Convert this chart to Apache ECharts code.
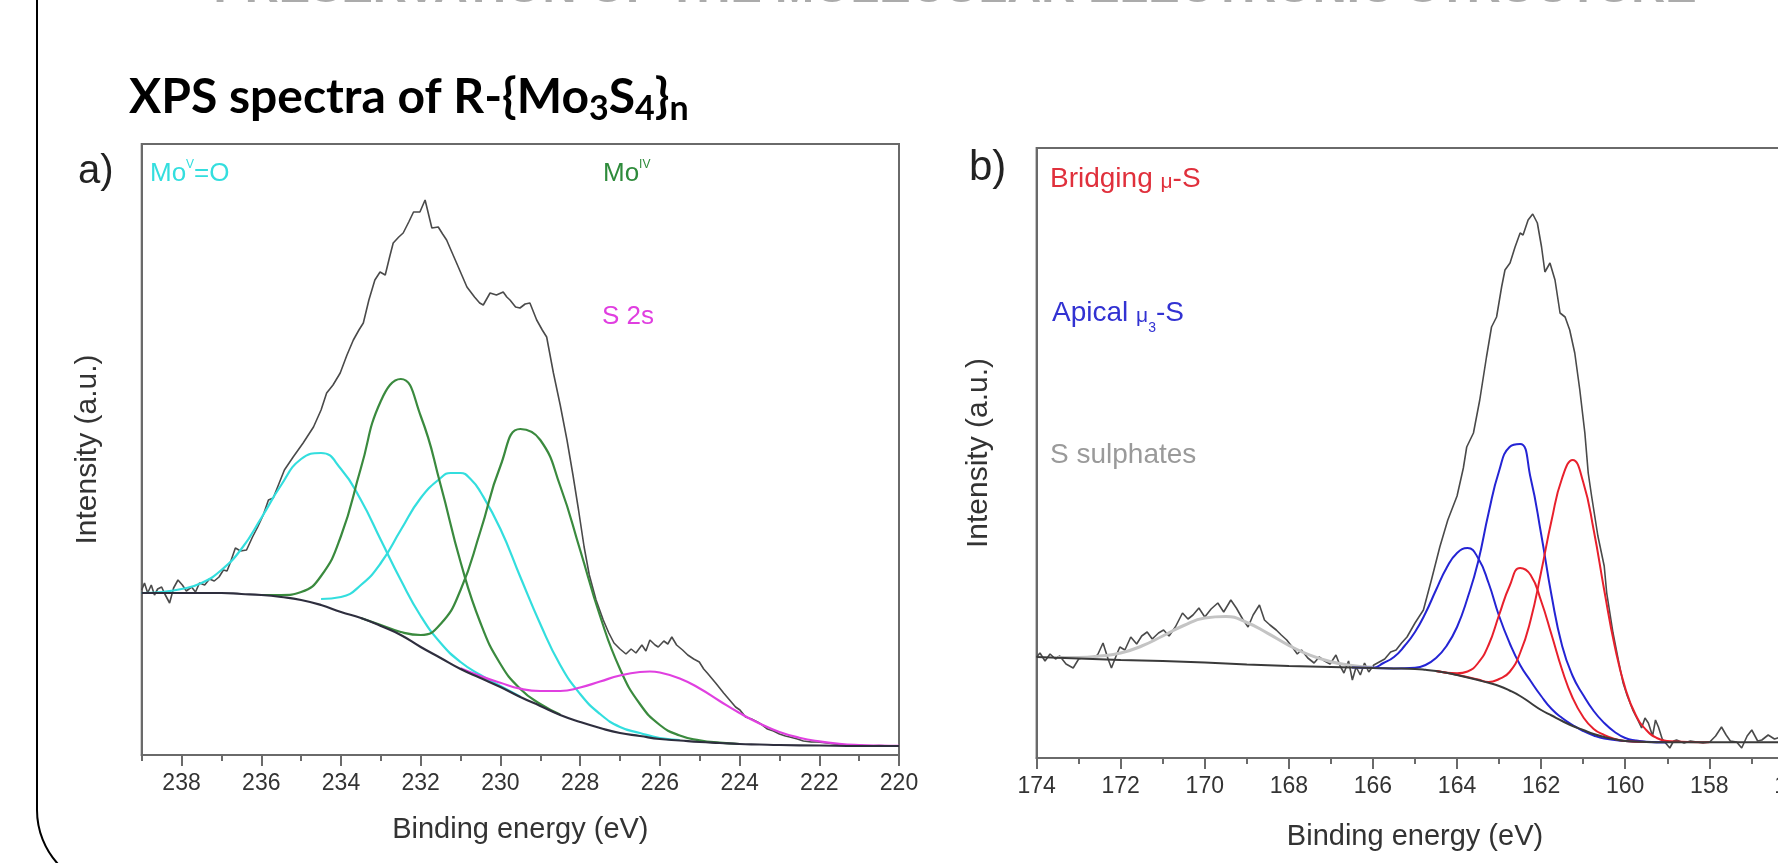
<!DOCTYPE html>
<html><head><meta charset="utf-8">
<script src="https://cdn.jsdelivr.net/npm/echarts@6/dist/echarts.min.js"></script>
<style>html,body{margin:0;padding:0;background:#fff;overflow:hidden;width:1778px;height:863px}#c{width:1850px;height:863px}</style>
</head><body><div id="c"></div><script>
// ---------- tick labels ----------
const ticksA = [238,236,234,232,230,228,226,224,222,220];
const minorA = [239,237,235,233,231,229,227,225,223,221];
const ticksB = [174,172,170,168,166,164,162,160,158,156];
const minorB = [173,171,169,167,165,163,161,159,157];

// ---------- panel a: Mo 3d region [binding energy, intensity] ----------
const rawA = [[239.0,165],[238.93,172],[238.85,162],[238.76,170],[238.68,160],[238.6,166],[238.5,168],[238.42,161],[238.3,152],[238.2,167],[238.09,175],[237.98,170],[237.88,164],[237.75,168],[237.65,163],[237.55,172],[237.42,170],[237.3,176],[237.18,174],[237.06,178],[236.95,185],[236.86,184],[236.78,192],[236.65,207],[236.52,204],[236.37,205],[236.22,218],[236.09,228],[235.95,240],[235.82,255],[235.7,257],[235.55,272],[235.42,285],[235.2,298],[234.95,312],[234.69,328],[234.5,345],[234.36,362],[234.2,370],[234.02,382],[233.85,400],[233.69,415],[233.55,425],[233.44,432],[233.3,455],[233.15,475],[233.02,483],[232.89,480],[232.78,498],[232.69,512],[232.55,518],[232.44,522],[232.3,533],[232.18,543],[232.02,543],[231.89,555],[231.72,527],[231.56,528],[231.45,521],[231.35,515],[231.22,503],[231.10,492],[230.97,480],[230.84,468],[230.65,458],[230.52,452],[230.43,450],[230.26,462],[230.1,460],[229.93,463],[229.84,458],[229.76,455],[229.62,448],[229.51,447],[229.38,451],[229.26,452],[229.09,435],[228.95,425],[228.84,418],[228.67,382],[228.5,350],[228.33,315],[228.18,280],[228.04,245],[227.9,208],[227.77,180],[227.6,155],[227.42,135],[227.28,122],[227.15,112],[227.0,106],[226.85,101],[226.72,106],[226.6,102],[226.45,110],[226.35,104],[226.25,115],[226.12,110],[226.04,108],[225.9,114],[225.8,111],[225.70,118],[225.58,110],[225.43,105],[225.3,100],[225.15,96],[225.01,93],[224.9,86],[224.81,82],[224.6,72],[224.4,62],[224.25,55],[224.1,48],[223.99,45],[223.85,38],[223.7,36],[223.55,33],[223.43,30],[223.3,26],[223.15,24],[223.0,21],[222.85,19],[222.74,18],[222.55,16],[222.4,14],[222.2,13],[222.05,13],[221.8,12],[221.6,11],[221.3,10],[221.09,10],[220.8,9],[220.5,9.5],[220.2,9],[220.0,9]];
const bgA = [[239,162],[238.5,162],[238,162],[237.5,162],[237,162],[236.5,161],[236,160],[235.5,158],[235,155],[234.5,150],[234,143],[233.5,137],[233,129],[232.5,120],[232,108],[231.5,97],[231,86],[230.5,77],[230,68],[229.5,58],[229,49],[228.5,40],[228,33],[227.5,27],[227,22],[226.5,19],[226,16],[225.5,14.5],[225,13],[224.5,12],[224,11],[223.5,10.5],[223,10],[222,9.5],[221,9],[220,9]];
const moV1A = [[239,162],[238.5,163],[238,166],[237.5,172],[237,185],[236.5,206],[236,237],[235.5,270],[235,296],[234.5,302],[234,286],[233.5,255],[233,215],[232.5,175],[232,139],[231.5,112],[231,93],[230.5,80],[230,69],[229.5,58.3]];
const moV2A = [[234.5,156],[234,158],[233.5,170],[233,192],[232.5,225],[232,257],[231.5,277],[231.25,282],[231,282],[230.75,276],[230.5,263],[230,226],[229.5,178],[229,131],[228.5,90],[228,61],[227.5,41],[227,28],[226.5,22],[226,17],[225.5,15]];
const moIV1A = [[236,160],[235.5,160],[235,163],[234.5,179],[234,219],[233.5,287],[233,354],[232.5,376],[232,339],[231.5,270],[231,193],[230.5,132],[230,91],[229.5,66],[229,51],[228.5,40.5]];
const moIV2A = [[233.5,137],[233,130],[232.5,123],[232,120],[231.5,131],[231,165],[230.5,224],[230,289],[229.5,326],[229,315],[228.5,269],[228,205],[227.5,139],[227,86],[226.5,51],[226,30],[225.5,19.5],[225,14.7],[224.5,12.3],[224,11]];
const s2sA = [[231,86.8],[230.5,78.9],[230,72.2],[229.5,66.3],[229,64],[228.5,64],[228,67.5],[227.5,73.5],[227,79.5],[226.5,83],[226.25,83.5],[226,82.5],[225.5,76.5],[225,66.5],[224.5,54],[224,42],[223.5,31.5],[223,23],[222.5,17.3],[222,13.6],[221.5,11.2],[221,9.9],[220.5,9.3],[220,9.1]];

// ---------- panel b: S 2p region ----------
const rawB = [[174.0,101],[173.92,105],[173.8,97],[173.68,104],[173.55,99],[173.45,102],[173.3,94],[173.13,90],[173.0,99],[172.85,101],[172.7,100],[172.55,103],[172.42,115],[172.3,99],[172.22,90],[172.1,103],[172.02,111],[171.9,108],[171.76,121],[171.62,114],[171.5,122],[171.37,126],[171.25,119],[171.1,125],[170.98,128],[170.85,122],[170.7,131],[170.53,145],[170.4,139],[170.28,143],[170.14,150],[170.0,141],[169.85,149],[169.69,155],[169.55,146],[169.38,158],[169.25,150],[169.1,139],[168.97,131],[168.85,143],[168.70,153],[168.58,138],[168.45,133],[168.3,128],[168.18,123],[168.05,118],[167.92,111],[167.8,104],[167.7,108],[167.55,100],[167.40,95],[167.28,101],[167.15,97],[167.02,94],[166.88,103],[166.78,92],[166.69,85],[166.58,97],[166.49,78],[166.4,91],[166.3,83],[166.2,95],[166.1,86],[165.98,93],[165.85,96],[165.72,99],[165.58,106],[165.45,108],[165.32,115],[165.19,121],[165.0,135],[164.80,148],[164.61,178],[164.41,211],[164.22,238],[164.0,262],[163.85,290],[163.77,311],[163.61,325],[163.46,358],[163.30,401],[163.18,431],[163.06,441],[162.94,471],[162.86,488],[162.74,495],[162.62,511],[162.50,525],[162.43,523],[162.31,538],[162.20,544],[162.09,535],[161.99,511],[161.91,486],[161.79,495],[161.67,478],[161.55,445],[161.43,441],[161.32,428],[161.20,405],[161.08,368],[160.96,325],[160.88,285],[160.80,262],[160.65,222],[160.5,192],[160.44,165],[160.29,125],[160.15,95],[160.05,75],[159.95,62],[159.81,47],[159.7,38],[159.61,30],[159.53,40],[159.45,35],[159.35,22],[159.28,38],[159.21,31],[159.12,19],[159.06,16],[158.94,10],[158.85,17],[158.78,18],[158.6,15],[158.45,17],[158.3,16],[158.15,15],[157.99,16],[157.85,22],[157.71,31],[157.6,23],[157.5,17],[157.35,16],[157.23,10],[157.1,22],[156.99,28],[156.85,17],[156.75,18],[156.6,23],[156.45,19],[156.3,21],[156.15,18],[156.0,19]];
const bgB = [[174,101],[173,99.5],[172,98],[171,97],[170,95.5],[169,93.5],[168,92],[167,91],[166,90],[165.5,89.6],[165,89],[164.75,88.2],[164.5,87],[164.25,85.3],[164,83],[163.75,80.5],[163.5,78],[163.25,75.2],[163,72],[162.75,67.5],[162.5,62],[162.25,55],[162,48],[161.75,42.5],[161.5,37],[161.25,32],[161,28],[160.75,24],[160.5,21],[160.25,18.7],[160,17],[159.5,16],[159,15.7],[156,15.7]];
const sulphB = [[173.5,100.5],[173,100.6],[172.5,102],[172,105],[171.5,112],[171,122],[170.5,132.5],[170,140],[169.5,141.5],[169,135.5],[168.5,124.6],[168,112.6],[167.5,102.8],[167,96.3],[166.5,92.6],[166,90.8]];
const apical1B = [[166,90],[165.5,89.6],[165,90.2],[164.75,93],[164.5,100],[164.25,112],[164,131],[163.75,160],[163.5,196],[163.25,245],[163,287],[162.75,311],[162.5,314],[162.25,280],[162,224],[161.75,162],[161.5,112],[161.25,82],[161,63],[160.75,47],[160.5,35],[160.25,26],[160,20],[159.75,17.5],[159.5,16.3],[159,15.8]];
const apical2B = [[166.5,90.5],[166,90.3],[165.75,95],[165.5,101],[165.25,112],[165,126],[164.75,145],[164.5,168],[164.25,190],[164,205],[163.75,210],[163.5,200],[163.25,175],[163,142],[162.75,115],[162.5,93],[162.25,77],[162,62],[161.75,49],[161.5,40],[161.25,33],[161,27],[160.75,22.5],[160.5,19.5],[160,17],[159.5,16],[159,15.7]];
const bridge1B = [[164.5,87],[164,83.2],[163.5,78.5],[163.25,76],[163,79],[162.75,86],[162.5,105],[162.25,138],[162,186],[161.75,238],[161.5,280],[161.25,298],[161,276],[160.75,228],[160.5,168],[160.25,112],[160,70],[159.75,43],[159.5,28],[159.25,20],[159,17],[158.5,16],[158,15.7]];
const bridge2B = [[164.5,87],[164,84.7],[163.75,86.5],[163.5,95],[163.25,113],[163,143],[162.75,172],[162.5,190],[162.25,183],[162,157],[161.75,123],[161.5,88],[161.25,60],[161,41],[160.75,29],[160.5,23],[160.25,19],[160,17],[159.5,16]];

// ---------- styles ----------
const FF = '"Liberation Sans", Arial, sans-serif';
const AX = '#6a6a6a';
const C = {raw:'#4a4a4a', bg:'#2e2e3e', cyan:'#33dede', green:'#3a8a3e', mag:'#e040e0', red:'#e8202c', blue:'#2424d4', sul:'#c4c4c4'};

function xAxes(grid, min, max, major, minor, gap){
  return [{
    gridIndex:grid, type:'value', min:min, max:max, inverse:true, position:'bottom',
    axisLine:{show:true, lineStyle:{color:AX, width:2}},
    axisTick:{show:true, length:11, customValues:major, lineStyle:{color:AX, width:2}},
    axisLabel:{show:true, customValues:major, margin:17, color:'#333', fontSize:23, fontFamily:FF},
    splitLine:{show:false},
    name:'Binding energy (eV)', nameLocation:'middle', nameGap:gap,
    nameTextStyle:{color:'#333', fontSize:29, fontFamily:FF}
  },{
    gridIndex:grid, type:'value', min:min, max:max, inverse:true, position:'bottom',
    axisLine:{show:false},
    axisTick:{show:true, length:6, customValues:minor, lineStyle:{color:AX, width:2}},
    axisLabel:{show:false}, splitLine:{show:false}
  }];
}
function yAxis(grid, max, gap){
  return {gridIndex:grid, type:'value', min:0, max:max,
    axisLine:{show:true, lineStyle:{color:AX, width:2}}, axisTick:{show:false},
    axisLabel:{show:false}, splitLine:{show:false},
    name:'Intensity (a.u.)', nameLocation:'middle', nameGap:gap,
    nameTextStyle:{color:'#333', fontSize:30, fontFamily:FF}};
}
function line(data, xi, yi, color, w, smooth, z){
  return {type:'line', data:data, xAxisIndex:xi, yAxisIndex:yi, showSymbol:false, symbol:'none',
    smooth:smooth, lineStyle:{color:color, width:w}, itemStyle:{color:color}, z:z||2, silent:true};
}

const series = [
  line(rawA,0,0,C.raw,1.6,false,2),
  line(moV1A,0,0,C.cyan,2.2,true,3),
  line(moV2A,0,0,C.cyan,2.2,true,3),
  line(moIV1A,0,0,C.green,2.2,true,3),
  line(moIV2A,0,0,C.green,2.2,true,3),
  line(s2sA,0,0,C.mag,2.2,true,3),
  line(bgA,0,0,C.bg,2.2,true,4),
  line(rawB,2,1,C.raw,1.6,false,2),
  line(sulphB,2,1,C.sul,3,true,2),
  line(apical2B,2,1,C.blue,2,true,3),
  line(apical1B,2,1,C.blue,2,true,3),
  line(bridge2B,2,1,C.red,2,true,3),
  line(bridge1B,2,1,C.red,2,true,3),
  line(bgB,2,1,'#3a3a3a',2,true,4)
];

const txt = (x,y,text,size,fill,extra)=>Object.assign({type:'text', x:x, y:y, silent:true,
  style:Object.assign({text:text, fontSize:size, fontFamily:FF, fill:fill, verticalAlign:'middle', align:'left'}, extra||{})});

const graphic = [
  {type:'rect', silent:true, shape:{x:37, y:-200, width:3000, height:1090, r:80}, style:{fill:'none', stroke:'#000', lineWidth:2}},
  txt(955, 12.5, 'PRESERVATION OF THE MOLECULAR ELECTRONIC STRUCTURE', 47, '#ababab', {fontWeight:'bold', align:'center', verticalAlign:'bottom'}),
  {type:'text', x:129, y:68.5, silent:true, style:{text:'XPS spectra of R-{Mo{s|3}S{s|4}}{s|n}', fontFamily:'Lato', fontWeight:'bold', fontSize:48, lineHeight:58, fill:'#000', verticalAlign:'top', align:'left',
    rich:{s:{fontFamily:'Lato', fontWeight:'bold', fontSize:34, lineHeight:26, verticalAlign:'bottom', fill:'#000'}}}},
  txt(78, 172, 'a)', 40, '#222'),
  txt(969, 168, 'b)', 42, '#222'),
  {type:'text', x:150, y:158.5, silent:true, style:{text:'Mo{p|V}=O', fontFamily:FF, fontSize:26, lineHeight:30, fill:C.cyan, verticalAlign:'top',
    rich:{p:{fontFamily:FF, fontSize:12, lineHeight:14, verticalAlign:'top', fill:C.cyan}}}},
  {type:'text', x:603, y:158.5, silent:true, style:{text:'Mo{p|IV}', fontFamily:FF, fontSize:26, lineHeight:30, fill:'#2e8b3b', verticalAlign:'top',
    rich:{p:{fontFamily:FF, fontSize:12, lineHeight:12, verticalAlign:'top', fill:'#2e8b3b'}}}},
  txt(602, 317, 'S 2s', 26, '#e03ee0'),
  {type:'text', x:1050, y:162, silent:true, style:{text:'Bridging {u|μ}-S', fontFamily:FF, fontSize:28, lineHeight:34, fill:'#e0303c', verticalAlign:'top',
    rich:{u:{fontFamily:FF, fontSize:21, lineHeight:34, fill:'#e0303c', padding:[6,0,0,0]}}}},
  {type:'text', x:1052, y:291, silent:true, style:{text:'Apical {u|μ}{b|3}-S', fontFamily:FF, fontSize:28, lineHeight:44, fill:'#3232d2', verticalAlign:'top',
    rich:{u:{fontFamily:FF, fontSize:21, lineHeight:44, fill:'#3232d2', padding:[6,0,0,0]}, b:{fontFamily:FF, fontSize:14, lineHeight:14, verticalAlign:'bottom', fill:'#3232d2'}}}},
  txt(1050, 455, 'S sulphates', 28, '#9a9a9a')
];

const option = {
  animation:false,
  backgroundColor:'#ffffff',
  grid:[
    {left:141.7, top:144, width:757.3, height:611, show:true, borderColor:AX, borderWidth:2, backgroundColor:'transparent'},
    {left:1036.6, top:148, width:756.8, height:610, show:true, borderColor:AX, borderWidth:2, backgroundColor:'transparent'}
  ],
  xAxis:[].concat(xAxes(0,220,239,ticksA,minorA,60), xAxes(1,156,174,ticksB,minorB,64)),
  yAxis:[yAxis(0,611,39), yAxis(1,610,43)],
  visualMap:[{type:'piecewise', show:false, seriesIndex:7, dimension:0,
    pieces:[{lt:159.35, color:'#2c2c66'},{gte:159.35, lte:172.4, color:'#464646'},{gt:172.4, color:'#2c2c66'}]}],
  series:series,
  graphic:graphic
};
const chart = echarts.init(document.getElementById('c'), null, {renderer:'canvas', width:1850, height:863});
chart.setOption(option);
</script></body></html>
